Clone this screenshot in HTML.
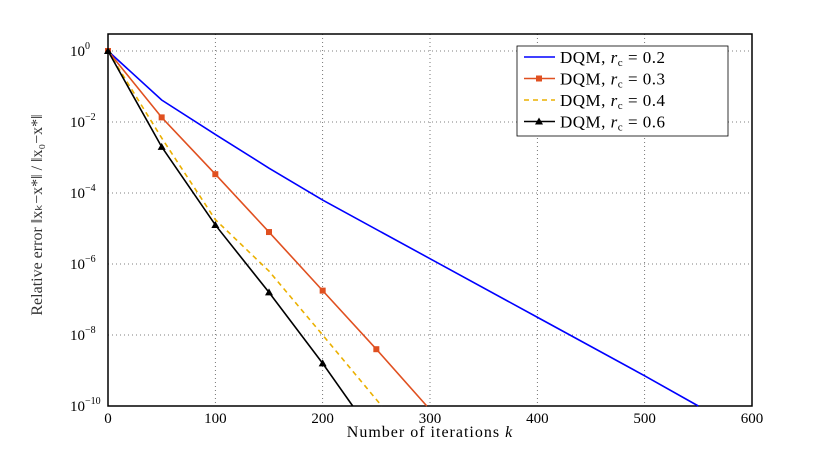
<!DOCTYPE html>
<html><head><meta charset="utf-8"><style>body{margin:0;background:#fff}svg{display:block;font-family:"Liberation Serif",serif}</style></head>
<body>
<svg id="chart" width="830" height="457"></svg>
<script>
const xTicks=[0,100,200,300,400,500,600];
const yTicks=[0,-2,-4,-6,-8,-10];
const sx_k=[0,50,100,150,200,300,400,500,550];
const s02=[0,-1.38,-2.35,-3.3,-4.2,-5.85,-7.5,-9.15,-10];
const s03_k=[0,50,100,150,200,250,297];
const s03=[0,-1.87,-3.47,-5.1,-6.75,-8.4,-10];
const s04_k=[0,50,100,150,200,255];
const s04=[0,-2.45,-4.75,-6.2,-8.0,-10];
const s06_k=[0,50,100,150,200,228];
const s06=[0,-2.7,-4.9,-6.8,-8.8,-10];
const L=108,R=752,T=34,B=406,Y0=51;
const X=v=>L+(v/600)*(R-L);
const Y=v=>Y0+(-v/10)*(B-Y0);
const svg=document.getElementById('chart');
const NS='http://www.w3.org/2000/svg';
function mk(t,a,p){const e=document.createElementNS(NS,t);for(const k in a)e.setAttribute(k,a[k]);(p||svg).appendChild(e);return e;}
for(const t of xTicks){
 const g=mk('line',{x1:X(t),x2:X(t),y1:T,y2:B,stroke:'#555','stroke-dasharray':'1,3','stroke-width':0.8});
 
 
 const tx=mk('text',{x:X(t),y:B+17,'text-anchor':'middle','font-size':15});tx.textContent=t;
 
 
}
for(const t of yTicks){
 const g=mk('line',{x1:L,x2:R,y1:Y(t),y2:Y(t),stroke:'#555','stroke-dasharray':'1,3','stroke-width':0.8});
 
 
 const tx=mk('text',{x:L-38,y:Y(t)+5,'font-size':15});
 tx.innerHTML='10<tspan dy="-7" font-size="10">'+(t===0?'0':'\u2212'+(-t))+'</tspan>';
 
 
}
const box=mk('rect',{x:L,y:T,width:R-L,height:B-T,fill:'none',stroke:'#000','stroke-width':1.5});


function series(ks,vs,color,name,dash,marker){
 const g=mk('g',{});
 
 
 mk('polyline',{points:ks.map((k,i)=>X(k)+','+Y(vs[i])).join(' '),fill:'none',stroke:color,'stroke-width':1.6,'stroke-dasharray':dash||''},g);
 if(marker) ks.forEach((k,i)=>{if(vs[i]<=-10)return;const x=X(k),y=Y(vs[i]);
  const m=marker==='sq'?mk('rect',{x:x-3,y:y-3,width:6,height:6,fill:color},g):mk('polygon',{points:`${x},${y-4} ${x-4},${y+3} ${x+4},${y+3}`,fill:color},g);
  
  });
}
series(sx_k,s02,'#0000ff','series-rc-0.2');
series(s03_k,s03,'#e05020','series-rc-0.3','', 'sq');
series(s04_k,s04,'#ebb000','series-rc-0.4','5,4');
series(s06_k,s06,'#000','series-rc-0.6','', 'tri');
const lg=mk('g',{});


mk('rect',{x:517,y:46,width:211,height:90,fill:'#fff',stroke:'#000','stroke-width':0.8},lg);
const ent=[['#0000ff','','','0.2'],['#e05020','','sq','0.3'],['#ebb000','5,4','','0.4'],['#000','','tri','0.6']];
ent.forEach((e,i)=>{const y=57+i*21.5;
 mk('line',{x1:524,x2:555,y1:y,y2:y,stroke:e[0],'stroke-width':1.6,'stroke-dasharray':e[1]},lg);
 if(e[2]==='sq')mk('rect',{x:536,y:y-3,width:6,height:6,fill:e[0]},lg);
 if(e[2]==='tri')mk('polygon',{points:`539,${y-4} 535,${y+3} 543,${y+3}`,fill:e[0]},lg);
 const t=mk('text',{x:560,y:y+6,'font-size':17,'letter-spacing':'0.5'},lg);
 t.innerHTML='DQM, <tspan font-style="italic">r</tspan><tspan font-size="11" dy="3">c</tspan><tspan dy="-3"> = '+e[3]+'</tspan>';
 
 
});
const xl=mk('text',{x:430,y:437,'text-anchor':'middle','font-size':16,'letter-spacing':'1'});
xl.innerHTML='Number of iterations <tspan font-style="italic">k</tspan>';


const yl=mk('text',{x:0,y:0,'text-anchor':'middle','font-size':16,fill:'#333',transform:'translate(42,215) rotate(-90)'});
yl.textContent='Relative error  \u2016x\u2096\u2212x*\u2016 / \u2016x\u2080\u2212x*\u2016';


</script>
</body></html>
